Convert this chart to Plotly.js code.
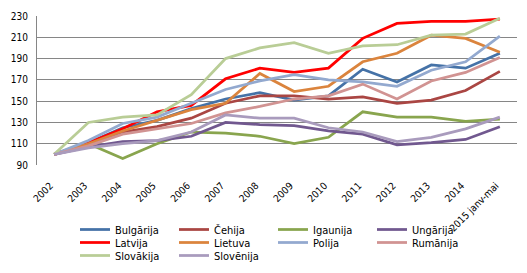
<!DOCTYPE html>
<html>
<head>
<meta charset="utf-8">
<script src="https://cdn.plot.ly/plotly-3.0.1.min.js"></script>
<style>html,body{margin:0;padding:0;background:#fff;}#chart{width:527px;height:273px;}</style>
</head>
<body>
<div id="chart"></div>
<script>
var categories = ["2002","2003","2004","2005","2006","2007","2008","2009","2010","2011","2012","2013","2014","2015 janv-mai"];

var bulgarija = [100,111,125,132,143,152,158,151,155,180,168,184,181,195];
var cehija    = [100,110,121,126,134,148,155,155,152,154,148,151,160,178];
var igaunija  = [100,110,96,110,121,120,117,110,116,140,135,135,131,133];
var ungarija  = [100,107,112,113,117,130,128,127,122,119,109,111,114,126];
var latvija   = [100,111,124,140,146,171,181,177,181,209,223,225,225,227];
var lietuva   = [100,110,122,132,142,148,176,159,164,187,195,212,209,196];
var polija    = [100,113,129,135,148,161,169,175,170,168,164,179,187,211];
var rumanija  = [100,108,119,124,129,139,145,152,155,166,152,169,177,191];
var slovakija = [100,130,135,137,156,190,200,205,195,202,203,212,213,228];
var slovenija = [100,106,110,113,121,137,134,134,125,121,112,116,124,135];

var names = ["Bulgārija","Čehija","Igaunija","Ungārija","Latvija","Lietuva","Polija","Rumānija","Slovākija","Slovēnija"];
var series = [bulgarija,cehija,igaunija,ungarija,latvija,lietuva,polija,rumanija,slovakija,slovenija];
var colors = ["#4572A7","#AA4643","#89A54E","#71588F","#FF0000","#DB843D","#93A9CF","#D19392","#B9CD96","#A99BBD"];
var legendOf = ["legend","legend","legend","legend","legend2","legend2","legend2","legend2","legend3","legend3"];

var FONT = "DejaVu Sans Condensed, DejaVu Sans, sans-serif";

var traces = series.map(function(s,i){
  return {
    x: categories, y: s, type: "scatter", mode: "lines", name: names[i],
    line: {color: colors[i], width: 2.75},
    legend: legendOf[i], hoverinfo: "skip"
  };
});

function leg(py){
  return {
    orientation: "h", xref: "container", yref: "container",
    x: 75/527, xanchor: "left", y: 1 - py/273, yanchor: "middle",
    entrywidth: 54, entrywidthmode: "pixels",
    font: {family: FONT, size: 11, color: "#000"},
    bgcolor: "rgba(0,0,0,0)", borderwidth: 0, itemwidth: 30,
    tracegroupgap: 0, traceorder: "normal"
  };
}

var layout = {
  width: 527, height: 273,
  margin: {l: 37, r: 10, t: 16, b: 108},
  paper_bgcolor: "#fff", plot_bgcolor: "#fff",
  font: {family: FONT, size: 10, color: "#000"},
  showlegend: true,
  legend: leg(229.5),
  legend2: leg(242.5),
  legend3: leg(255.5),
  xaxis: {
    type: "category", range: [-0.5, 13.5], tickangle: -45, showgrid: false, zeroline: false,
    showline: false, ticks: "outside", ticklen: 6, tickcolor: "rgba(0,0,0,0)",
    tickfont: {family: FONT, size: 10, color: "#000"},
    ticklabelstandoff: 4, ticklabelshift: -4, automargin: false, fixedrange: true
  },
  yaxis: {
    range: [90, 230], dtick: 20, tick0: 90, showgrid: true, gridcolor: "#868686", gridwidth: 1,
    zeroline: false, showline: true, linecolor: "#868686", linewidth: 1, ticks: "",
    tickfont: {family: FONT, size: 10, color: "#000"}, ticklabelstandoff: 6,
    automargin: false, fixedrange: true
  }
};

Plotly.newPlot("chart", traces, layout, {displayModeBar: false, staticPlot: true});
</script>
</body>
</html>
